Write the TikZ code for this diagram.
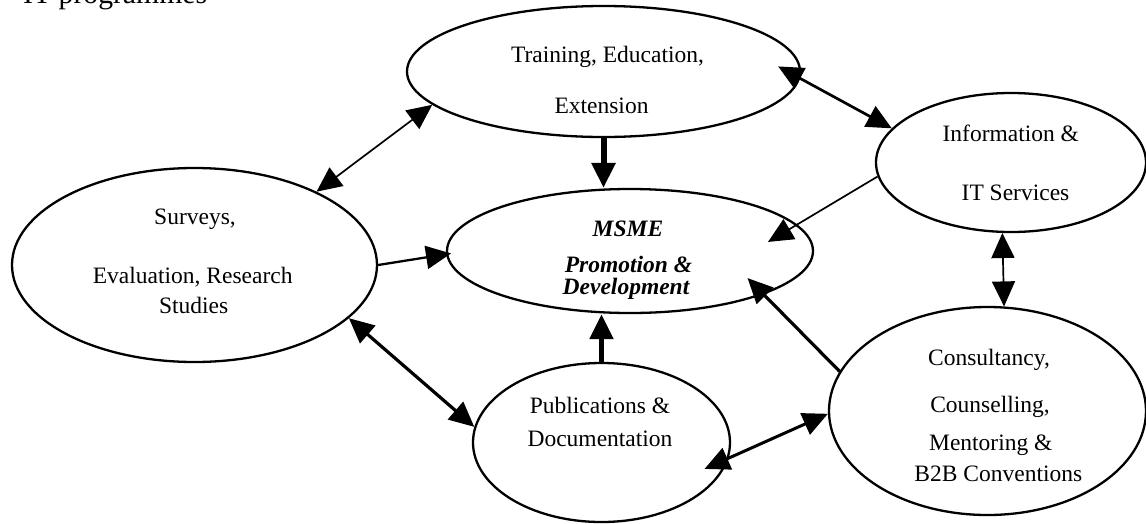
\documentclass[tikz,border=0pt]{standalone}
\usepackage{fontspec}
\setmainfont{Liberation Serif}
\usetikzlibrary{shapes.geometric,arrows.meta}
\begin{document}
\begin{tikzpicture}[x=1pt,y=-1pt,
  >={Triangle[length=25pt,width=23pt]},
  bubble/.style={ellipse,draw,line width=2.3pt,inner sep=0pt},
  txt/.style={anchor=base,inner sep=0pt,font=\fontsize{23.5}{28}\selectfont},
  btxt/.style={anchor=base,inner sep=0pt,font=\fontsize{23.5}{28}\selectfont\bfseries\itshape},
  twoway/.style={<->},
  oneway/.style={->}]
\useasboundingbox (0,0) rectangle (1146,523);

% header fragment (cut off at the top edge, as in the reference)
\node[anchor=base west,inner sep=0pt,font=\fontsize{29.7}{34}\selectfont] (hdr) at (23,3) {IT programmes};

% ellipses
\node[bubble,minimum width=393pt,minimum height=131pt] (train) at (603.5,71.5) {};
\node[bubble,minimum width=366pt,minimum height=124pt] (msme) at (630,251) {};
\node[bubble,minimum width=365pt,minimum height=194pt] (surv) at (194.5,265) {};
\node[bubble,minimum width=270pt,minimum height=139pt] (info) at (1011,162.5) {};
\node[bubble,minimum width=257pt,minimum height=159pt] (pub) at (601.5,442.5) {};
\node[bubble,minimum width=317pt,minimum height=208pt] (cons) at (987.5,411) {};

% texts
\node[txt] (t1) at (607.5,62) {Training, Education,};
\node[txt] (t2) at (601.5,113) {Extension};
\node[btxt] (m1) at (628,236) {MSME};
\node[btxt] (m2) at (628.5,272.5) {Promotion \&};
\node[btxt] (m3) at (626,294) {Development};
\node[txt] (s1) at (195,224) {Surveys,};
\node[txt] (s2) at (192.7,283) {Evaluation, Research};
\node[txt] (s3) at (193.7,313) {Studies};
\node[txt] (i1) at (1010.8,141.7) {Information \&};
\node[txt] (i2) at (1015.5,200.7) {IT Services};
\node[txt] (p1) at (600,413) {Publications \&};
\node[txt] (p2) at (600,446.7) {Documentation};
\node[txt] (c1) at (989,365.7) {Consultancy,};
\node[txt] (c2) at (990,412.3) {Counselling,};
\node[txt] (c3) at (990.8,450.7) {Mentoring \&};
\node[txt] (c4) at (998.3,481.7) {B2B Conventions};

% connectors
\draw[twoway,line width=1.7pt] (train.191) -- (surv.31);
\draw[twoway,line width=2.7pt,shorten <=-25pt] (train.358) -- (info.164);
\draw[oneway,line width=6pt] (train.south) -- (train.south |- msme.north);
\draw[oneway,line width=1.7pt,shorten >=-34pt] (info.186) -- (msme.9);
\draw[oneway,line width=2.3pt,shorten >=-5pt] (surv.east) -- (msme.181);
\draw[twoway,line width=3.2pt] (surv.341) -- (pub.173);
\draw[oneway,line width=5pt] (pub.north) -- (pub.north |- msme.south);
\draw[oneway,line width=3.2pt,shorten >=-23pt] (cons.165) -- (msme.342);
\draw[twoway,line width=1.7pt] (info.263) -- (cons.81);
\draw[twoway,line width=3pt,shorten <=-26.5pt] (pub.353) -- (cons.181);
\end{tikzpicture}
\end{document}
